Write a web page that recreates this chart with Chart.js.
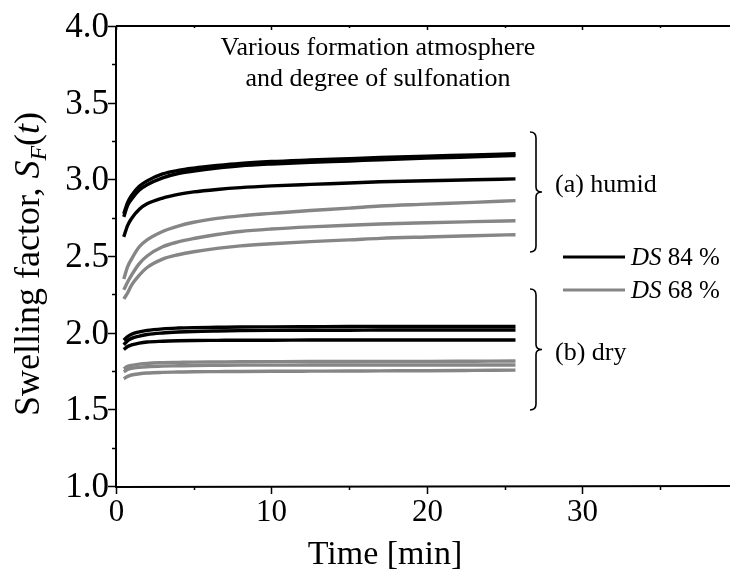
<!DOCTYPE html>
<html>
<head>
<meta charset="utf-8">
<script src="https://cdn.jsdelivr.net/npm/chart.js@4.4.1/dist/chart.umd.min.js"></script>
<style>
  html, body { margin: 0; padding: 0; background: #fff; }
  #wrap { width: 730px; height: 571px; }
</style>
</head>
<body>
<div id="wrap"><canvas id="chart" width="730" height="571"></canvas></div>
<script>
//time points (min), shared by every curve
const times = [0.5, 0.75, 1, 1.5, 2, 3, 4, 5, 6.5, 8, 10, 12.5, 15, 17, 20, 23, 25.7];

//(a) humid, DS 84 %
const humidBlack1 = [2.775, 2.85, 2.895, 2.955, 2.99, 3.035, 3.058, 3.073, 3.09, 3.104, 3.116, 3.126, 3.135, 3.142, 3.151, 3.159, 3.167];
const humidBlack2 = [2.755, 2.83, 2.87, 2.93, 2.965, 3.01, 3.038, 3.054, 3.073, 3.088, 3.1, 3.111, 3.12, 3.128, 3.138, 3.147, 3.155];
const humidBlack3 = [2.625, 2.7, 2.745, 2.805, 2.84, 2.878, 2.902, 2.918, 2.934, 2.946, 2.957, 2.967, 2.976, 2.984, 2.991, 2.997, 3.003];
//(a) humid, DS 68 %
const humidGray1 = [2.35, 2.43, 2.48, 2.56, 2.605, 2.66, 2.695, 2.72, 2.745, 2.762, 2.778, 2.797, 2.812, 2.826, 2.838, 2.85, 2.861];
const humidGray2 = [2.28, 2.33, 2.375, 2.45, 2.5, 2.56, 2.592, 2.614, 2.64, 2.66, 2.676, 2.69, 2.701, 2.709, 2.717, 2.724, 2.73];
const humidGray3 = [2.22, 2.26, 2.31, 2.375, 2.425, 2.48, 2.508, 2.528, 2.55, 2.566, 2.58, 2.594, 2.605, 2.615, 2.624, 2.632, 2.639];
//(b) dry, DS 84 %
const dryBlack1 = [1.95, 1.975, 1.99, 2.005, 2.015, 2.025, 2.03, 2.033, 2.035, 2.037, 2.038, 2.039, 2.04, 2.04, 2.04, 2.04, 2.04];
const dryBlack2 = [1.92, 1.948, 1.963, 1.978, 1.988, 1.998, 2.004, 2.008, 2.011, 2.013, 2.015, 2.016, 2.016, 2.017, 2.017, 2.017, 2.017];
const dryBlack3 = [1.89, 1.91, 1.92, 1.932, 1.939, 1.944, 1.947, 1.949, 1.95, 1.951, 1.951, 1.952, 1.952, 1.952, 1.952, 1.952, 1.952];
//(b) dry, DS 68 %
const dryGray1 = [1.765, 1.78, 1.787, 1.795, 1.8, 1.804, 1.806, 1.808, 1.809, 1.81, 1.811, 1.812, 1.812, 1.813, 1.813, 1.814, 1.815];
const dryGray2 = [1.745, 1.76, 1.767, 1.774, 1.778, 1.782, 1.784, 1.786, 1.787, 1.788, 1.788, 1.789, 1.789, 1.789, 1.789, 1.789, 1.789];
const dryGray3 = [1.70, 1.715, 1.724, 1.732, 1.737, 1.741, 1.743, 1.745, 1.746, 1.747, 1.748, 1.749, 1.75, 1.751, 1.752, 1.754, 1.756];

//axis ranges and tick steps
const xRange = [0, 39.5];
const yRange = [1.0, 4.0];
const xMajorStep = 10;
const yMajorStep = 0.5;

const BLACK = '#000000';
const GRAY = '#868686';
const SERIF = '"Liberation Serif", "Times New Roman", serif';

//turn one value array into x/y points
function toPoints(values) {
    return values.map((v, i) => ({x: times[i], y: v}));
}

function curve(values, colour) {
    return {
        data: toPoints(values),
        borderColor: colour,
        borderWidth: 3.4,
        pointRadius: 0,
        cubicInterpolationMode: 'monotone',
        fill: false
    };
}

//draws a row of text pieces with different fonts, centred on cx
function drawRuns(ctx, runs, cx, baseY) {
    let total = 0;
    runs.forEach(r => { ctx.font = r.font; total += ctx.measureText(r.text).width; });
    let px = cx - total / 2;
    runs.forEach(r => {
        ctx.font = r.font;
        ctx.fillText(r.text, px, baseY + (r.dy || 0));
        px += ctx.measureText(r.text).width;
    });
}

//right curly brace, tip pointing right
function drawBrace(ctx, x, top, bottom) {
    const mid = (top + bottom) / 2;
    ctx.beginPath();
    ctx.moveTo(x - 6, top);
    ctx.quadraticCurveTo(x, top, x, top + 6);
    ctx.lineTo(x, mid - 5);
    ctx.quadraticCurveTo(x, mid, x + 6, mid);
    ctx.quadraticCurveTo(x, mid, x, mid + 5);
    ctx.lineTo(x, bottom - 6);
    ctx.quadraticCurveTo(x, bottom, x - 6, bottom);
    ctx.stroke();
}

//frame, ticks, tick labels, titles and notes
const decorations = {
    id: 'decorations',
    afterDraw(chart) {
        const ctx = chart.ctx;
        const a = chart.chartArea;
        const xs = chart.scales.x;
        const ys = chart.scales.y;
        ctx.save();
        ctx.strokeStyle = BLACK;
        ctx.fillStyle = BLACK;

        //axis lines (left, bottom, top)
        ctx.lineWidth = 2;
        ctx.beginPath();
        ctx.moveTo(a.left, a.top); ctx.lineTo(a.left, a.bottom + 1); ctx.lineTo(a.right, a.bottom);
        ctx.moveTo(a.left, a.top); ctx.lineTo(a.right, a.top);
        ctx.stroke();

        //x ticks
        ctx.lineWidth = 1.5;
        ctx.font = '31px ' + SERIF;
        ctx.textAlign = 'center';
        ctx.textBaseline = 'alphabetic';
        xs.ticks.forEach(t => {
            const px = Math.round(xs.getPixelForValue(t.value)) + 0.5;
            const major = t.value % xMajorStep === 0;
            ctx.beginPath();
            ctx.moveTo(px, a.bottom); ctx.lineTo(px, a.bottom + (major ? 8 : 4));
            ctx.moveTo(px, a.top); ctx.lineTo(px, a.top + (major ? 4 : 2));
            ctx.stroke();
            if (major) ctx.fillText(String(t.value), px, a.bottom + 35);
        });

        //y ticks
        ctx.font = '35px ' + SERIF;
        ctx.textAlign = 'right';
        ctx.textBaseline = 'middle';
        ys.ticks.forEach(t => {
            const py = Math.round(ys.getPixelForValue(t.value)) + 0.5;
            const r = t.value / yMajorStep;
            const major = Math.abs(r - Math.round(r)) < 1e-6;
            ctx.beginPath();
            ctx.moveTo(a.left, py); ctx.lineTo(a.left - (major ? 8 : 4), py);
            ctx.stroke();
            if (major) ctx.fillText(t.value.toFixed(1), a.left - 7, py + 1);
        });

        //axis titles
        ctx.textAlign = 'left';
        ctx.textBaseline = 'alphabetic';
        drawRuns(ctx, [{text: 'Time [min]', font: '34px ' + SERIF}], 385, 564);
        ctx.save();
        ctx.translate(39, 264);
        ctx.rotate(-Math.PI / 2);
        drawRuns(ctx, [
            {text: 'Swelling factor, ', font: '36px ' + SERIF},
            {text: 'S', font: 'italic 36px ' + SERIF},
            {text: 'F', font: 'italic 24px ' + SERIF, dy: 7},
            {text: '(', font: '36px ' + SERIF},
            {text: 't', font: 'italic 36px ' + SERIF},
            {text: ')', font: '36px ' + SERIF}
        ], 0, 0);
        ctx.restore();

        //note at the top
        drawRuns(ctx, [{text: 'Various formation atmosphere', font: '26px ' + SERIF}], 378, 55);
        drawRuns(ctx, [{text: 'and degree of sulfonation', font: '26px ' + SERIF}], 378, 86);

        //braces and group names
        ctx.lineWidth = 1.6;
        drawBrace(ctx, 536, 132, 252);
        drawBrace(ctx, 536, 289, 410);
        ctx.font = '26px ' + SERIF;
        ctx.fillText('(a) humid', 555, 192);
        ctx.fillText('(b) dry', 555, 360);

        //legend
        ctx.lineWidth = 3;
        ctx.strokeStyle = BLACK;
        ctx.beginPath(); ctx.moveTo(563, 257); ctx.lineTo(625, 257); ctx.stroke();
        ctx.strokeStyle = GRAY;
        ctx.beginPath(); ctx.moveTo(563, 290); ctx.lineTo(625, 290); ctx.stroke();
        const legendRuns = label => [
            {text: 'DS', font: 'italic 25px ' + SERIF},
            {text: label, font: '25px ' + SERIF}
        ];
        ctx.font = 'italic 25px ' + SERIF;
        const dsW = ctx.measureText('DS').width;
        ctx.font = '25px ' + SERIF;
        drawRuns(ctx, legendRuns(' 84 %'), 631 + (dsW + ctx.measureText(' 84 %').width) / 2, 265);
        drawRuns(ctx, legendRuns(' 68 %'), 631 + (dsW + ctx.measureText(' 68 %').width) / 2, 298);
        ctx.restore();
    }
};

new Chart(document.getElementById('chart'), {
    type: 'line',
    data: {
        datasets: [
            curve(humidGray1, GRAY),
            curve(humidGray2, GRAY),
            curve(humidGray3, GRAY),
            curve(dryGray1, GRAY),
            curve(dryGray2, GRAY),
            curve(dryGray3, GRAY),
            curve(humidBlack1, BLACK),
            curve(humidBlack2, BLACK),
            curve(humidBlack3, BLACK),
            curve(dryBlack1, BLACK),
            curve(dryBlack2, BLACK),
            curve(dryBlack3, BLACK)
        ]
    },
    options: {
        responsive: false,
        animation: false,
        layout: {padding: {left: 116, top: 26, right: 0, bottom: 85}},
        plugins: {legend: {display: false}, tooltip: {enabled: false}},
        scales: {
            x: {
                type: 'linear',
                display: false,
                min: xRange[0],
                max: xRange[1],
                ticks: {stepSize: 5, includeBounds: false}
            },
            y: {
                display: false,
                min: yRange[0],
                max: yRange[1],
                ticks: {stepSize: 0.25}
            }
        }
    },
    plugins: [decorations]
});
</script>
</body>
</html>
